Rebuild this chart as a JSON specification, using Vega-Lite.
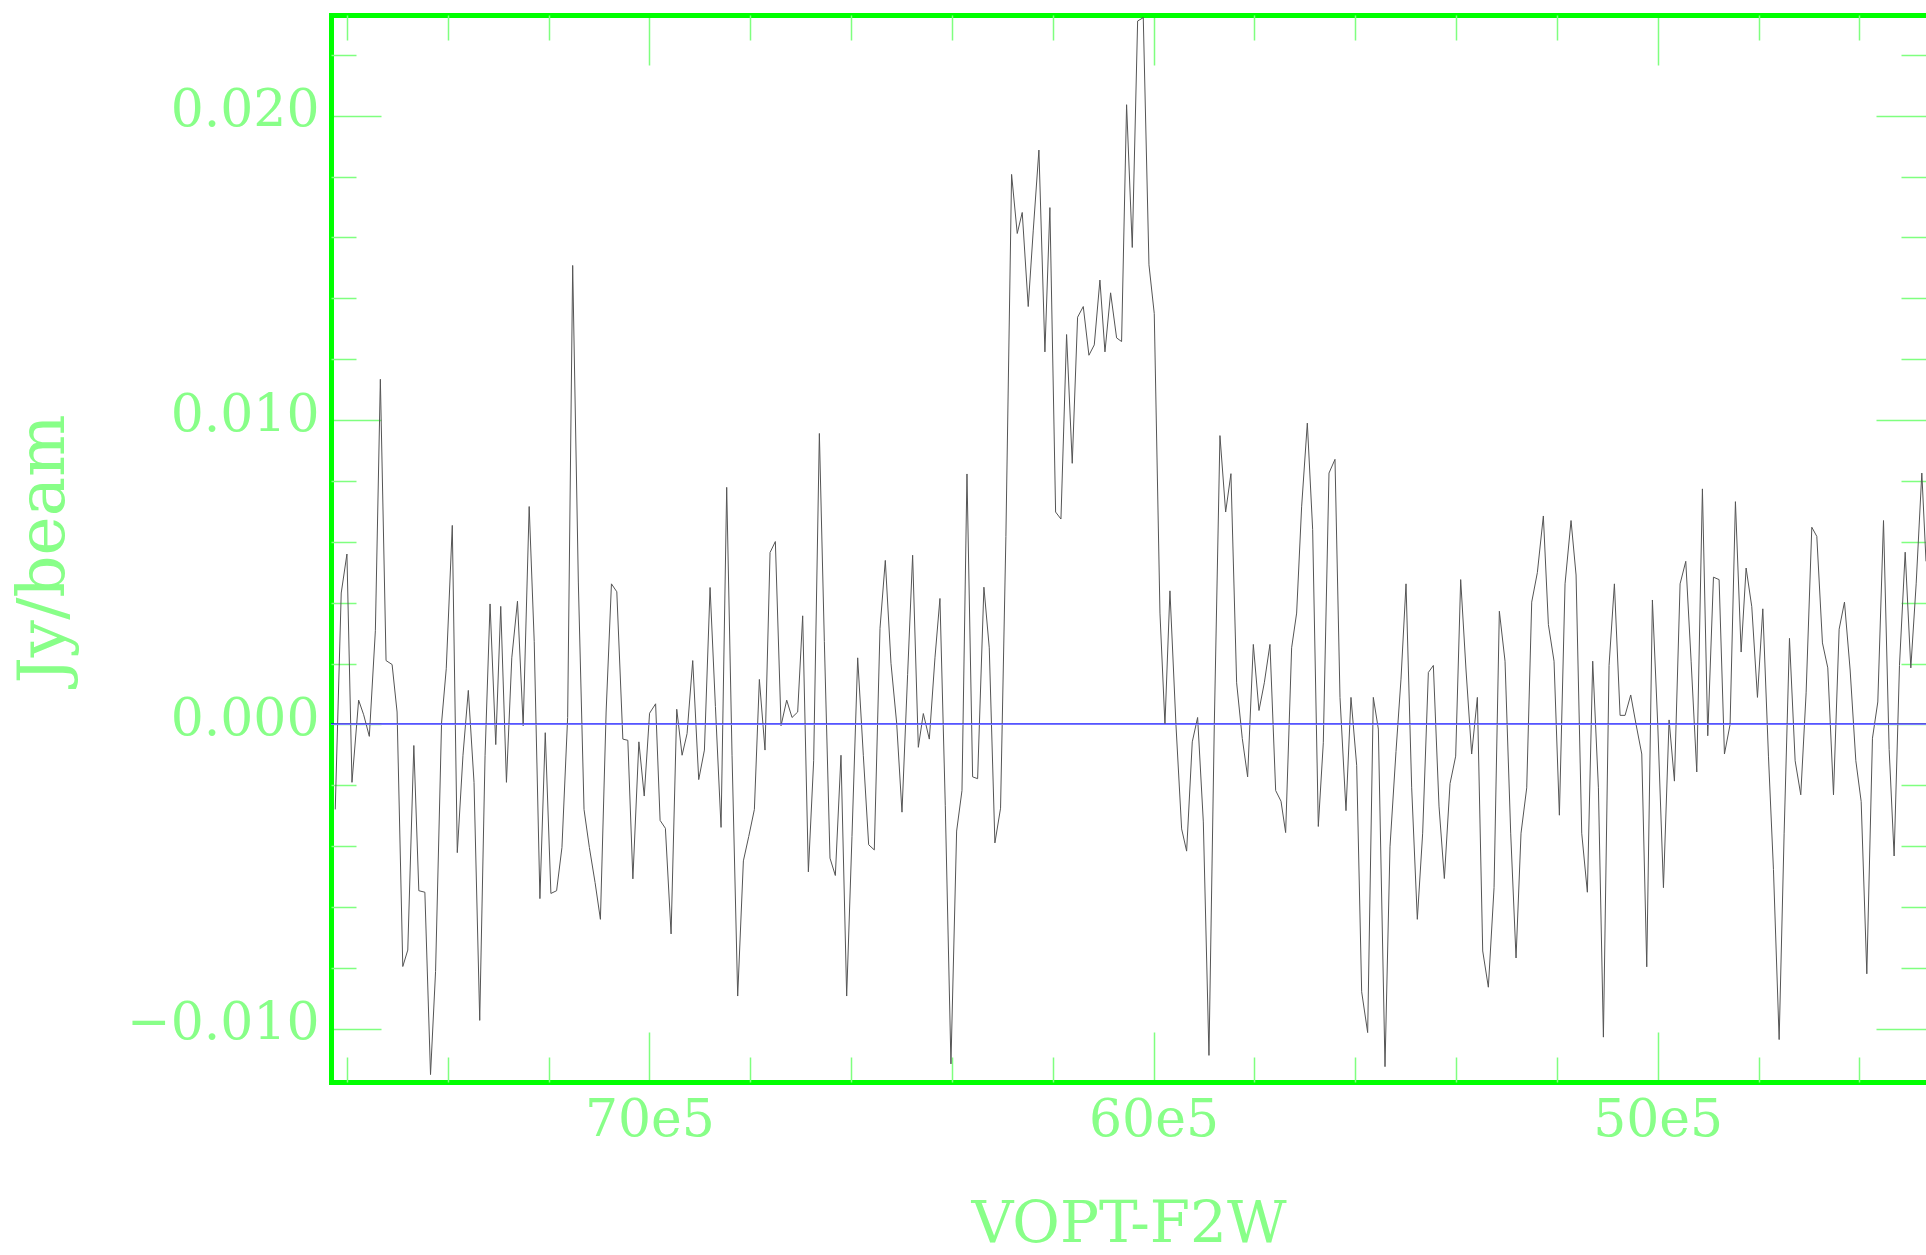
{
  "$schema": "https://vega.github.io/schema/vega-lite/v6.json",
  "width": 1595,
  "height": 1067,
  "autosize": {"type": "none"},
  "padding": {"left": 331, "top": 15, "right": 0, "bottom": 173},
  "background": "white",
  "config": {
    "view": {"stroke": null},
    "axis": {"labelFont": "DejaVu Serif", "titleFont": "DejaVu Serif", "zindex": 1, "grid": false, "labelLimit": 0}
  },
  "data": {"values": [
    {"vel":7623200,"flux":-0.00279},{"vel":7611300,"flux":0.00432},{"vel":7600000,"flux":0.00560},{"vel":7590000,"flux":-0.00190},
    {"vel":7576800,"flux":0.00080},{"vel":7566800,"flux":0.00032},{"vel":7555600,"flux":-0.00039},{"vel":7543600,"flux":0.00308},
    {"vel":7533700,"flux":0.01134},{"vel":7522400,"flux":0.00210},{"vel":7510400,"flux":0.00197},{"vel":7500500,"flux":0.00041},
    {"vel":7489200,"flux":-0.00795},{"vel":7479300,"flux":-0.00741},{"vel":7467300,"flux":-0.00069},{"vel":7457400,"flux":-0.00546},
    {"vel":7445400,"flux":-0.00551},{"vel":7434200,"flux":-0.01150},{"vel":7424200,"flux":-0.00812},{"vel":7412300,"flux":0.00005},
    {"vel":7403000,"flux":0.00183},{"vel":7391000,"flux":0.00654},{"vel":7381100,"flux":-0.00421},{"vel":7369800,"flux":-0.00101},
    {"vel":7359200,"flux":0.00112},{"vel":7347900,"flux":-0.00190},{"vel":7336600,"flux":-0.00972},{"vel":7326000,"flux":-0.00101},
    {"vel":7316100,"flux":0.00396},{"vel":7304800,"flux":-0.00066},{"vel":7294900,"flux":0.00388},{"vel":7283600,"flux":-0.00190},
    {"vel":7273000,"flux":0.00219},{"vel":7261700,"flux":0.00405},{"vel":7250400,"flux":-0.00004},{"vel":7238500,"flux":0.00716},
    {"vel":7228500,"flux":0.00272},{"vel":7217200,"flux":-0.00572},{"vel":7206600,"flux":-0.00027},{"vel":7195400,"flux":-0.00555},
    {"vel":7184100,"flux":-0.00546},{"vel":7173500,"flux":-0.00404},{"vel":7162200,"flux":0.00023},{"vel":7152200,"flux":0.01508},
    {"vel":7141000,"flux":0.00468},{"vel":7129700,"flux":-0.00279},{"vel":7119100,"flux":-0.00404},{"vel":7107800,"flux":-0.00519},
    {"vel":7097200,"flux":-0.00640},{"vel":7085900,"flux":0.00041},{"vel":7075300,"flux":0.00462},{"vel":7064700,"flux":0.00436},
    {"vel":7052700,"flux":-0.00048},{"vel":7042800,"flux":-0.00052},{"vel":7032800,"flux":-0.00507},{"vel":7020900,"flux":-0.00057},
    {"vel":7010300,"flux":-0.00235},{"vel":6999700,"flux":0.00037},{"vel":6987700,"flux":0.00068},{"vel":6978800,"flux":-0.00315},
    {"vel":6968300,"flux":-0.00341},{"vel":6957000,"flux":-0.00688},{"vel":6945800,"flux":0.00050},{"vel":6935200,"flux":-0.00101},
    {"vel":6925300,"flux":-0.00030},{"vel":6914100,"flux":0.00210},{"vel":6902200,"flux":-0.00181},{"vel":6890900,"flux":-0.00084},
    {"vel":6879700,"flux":0.00450},{"vel":6869100,"flux":0.00059},{"vel":6857900,"flux":-0.00338},{"vel":6846700,"flux":0.00779},
    {"vel":6836100,"flux":-0.00101},{"vel":6824900,"flux":-0.00892},{"vel":6813600,"flux":-0.00448},{"vel":6803000,"flux":-0.00368},
    {"vel":6791800,"flux":-0.00279},{"vel":6781900,"flux":0.00148},{"vel":6770700,"flux":-0.00084},{"vel":6760700,"flux":0.00565},
    {"vel":6750200,"flux":0.00601},{"vel":6738900,"flux":-0.00004},{"vel":6727700,"flux":0.00080},{"vel":6717100,"flux":0.00023},
    {"vel":6705900,"flux":0.00041},{"vel":6696000,"flux":0.00357},{"vel":6684700,"flux":-0.00484},{"vel":6674200,"flux":-0.00119},
    {"vel":6662900,"flux":0.00956},{"vel":6653000,"flux":0.00272},{"vel":6641800,"flux":-0.00439},{"vel":6631200,"flux":-0.00496},
    {"vel":6620000,"flux":-0.00101},{"vel":6608700,"flux":-0.00892},{"vel":6598200,"flux":-0.00368},{"vel":6586900,"flux":0.00219},
    {"vel":6575700,"flux":-0.00101},{"vel":6565100,"flux":-0.00395},{"vel":6553900,"flux":-0.00412},{"vel":6542600,"flux":0.00316},
    {"vel":6532100,"flux":0.00539},{"vel":6520800,"flux":0.00201},{"vel":6509600,"flux":0.00005},{"vel":6499000,"flux":-0.00288},
    {"vel":6487800,"flux":0.00165},{"vel":6477900,"flux":0.00556},{"vel":6466600,"flux":-0.00075},{"vel":6456700,"flux":0.00036},
    {"vel":6444800,"flux":-0.00048},{"vel":6433600,"flux":0.00219},{"vel":6423700,"flux":0.00414},{"vel":6413100,"flux":-0.00267},
    {"vel":6401900,"flux":-0.01115},{"vel":6390600,"flux":-0.00350},{"vel":6380000,"flux":-0.00217},{"vel":6370100,"flux":0.00823},
    {"vel":6358900,"flux":-0.00172},{"vel":6349000,"flux":-0.00178},{"vel":6336500,"flux":0.00451},{"vel":6325900,"flux":0.00252},
    {"vel":6314700,"flux":-0.00389},{"vel":6303500,"flux":-0.00275},{"vel":6292900,"flux":0.00618},{"vel":6281600,"flux":0.01807},
    {"vel":6270400,"flux":0.01613},{"vel":6260500,"flux":0.01682},{"vel":6248600,"flux":0.01373},{"vel":6238600,"flux":0.01624},
    {"vel":6227400,"flux":0.01887},{"vel":6215500,"flux":0.01224},{"vel":6205600,"flux":0.01698},{"vel":6194300,"flux":0.00698},
    {"vel":6183700,"flux":0.00675},{"vel":6172500,"flux":0.01281},{"vel":6161300,"flux":0.00858},{"vel":6150700,"flux":0.01338},
    {"vel":6139400,"flux":0.01373},{"vel":6128200,"flux":0.01213},{"vel":6117600,"flux":0.01247},{"vel":6106400,"flux":0.01460},
    {"vel":6096400,"flux":0.01224},{"vel":6085200,"flux":0.01418},{"vel":6073300,"flux":0.01270},{"vel":6063400,"flux":0.01258},
    {"vel":6053500,"flux":0.02036},{"vel":6042200,"flux":0.01567},{"vel":6031600,"flux":0.02311},{"vel":6020400,"flux":0.02322},
    {"vel":6009100,"flux":0.01510},{"vel":5998600,"flux":0.01350},{"vel":5987300,"flux":0.00366},{"vel":5977400,"flux":0.00000},
    {"vel":5967500,"flux":0.00439},{"vel":5955600,"flux":0.00000},{"vel":5944300,"flux":-0.00343},{"vel":5934400,"flux":-0.00416},
    {"vel":5923200,"flux":-0.00057},{"vel":5912600,"flux":0.00023},{"vel":5901300,"flux":-0.00320},{"vel":5890100,"flux":-0.01087},
    {"vel":5879500,"flux":0.00000},{"vel":5868300,"flux":0.00949},{"vel":5857000,"flux":0.00698},{"vel":5846500,"flux":0.00824},
    {"vel":5835200,"flux":0.00137},{"vel":5824000,"flux":-0.00046},{"vel":5813400,"flux":-0.00172},{"vel":5802100,"flux":0.00263},
    {"vel":5790900,"flux":0.00046},{"vel":5780300,"flux":0.00137},{"vel":5769100,"flux":0.00263},{"vel":5757800,"flux":-0.00217},
    {"vel":5747200,"flux":-0.00252},{"vel":5738000,"flux":-0.00355},{"vel":5726100,"flux":0.00252},{"vel":5716200,"flux":0.00366},
    {"vel":5706300,"flux":0.00715},{"vel":5695000,"flux":0.00990},{"vel":5684400,"flux":0.00640},{"vel":5673200,"flux":-0.00335},
    {"vel":5663300,"flux":-0.00060},{"vel":5652000,"flux":0.00826},{"vel":5640100,"flux":0.00871},{"vel":5630200,"flux":0.00089},
    {"vel":5618300,"flux":-0.00283},{"vel":5608400,"flux":0.00089},{"vel":5597100,"flux":-0.00134},{"vel":5587200,"flux":-0.00878},
    {"vel":5575300,"flux":-0.01012},{"vel":5564100,"flux":0.00089},{"vel":5554100,"flux":-0.00015},{"vel":5540900,"flux":-0.01124},
    {"vel":5531000,"flux":-0.00402},{"vel":5519100,"flux":-0.00089},{"vel":5509200,"flux":0.00149},{"vel":5499200,"flux":0.00462},
    {"vel":5488000,"flux":-0.00208},{"vel":5476800,"flux":-0.00640},{"vel":5466200,"flux":-0.00357},{"vel":5454900,"flux":0.00171},
    {"vel":5445000,"flux":0.00194},{"vel":5433800,"flux":-0.00268},{"vel":5423200,"flux":-0.00506},{"vel":5411900,"flux":-0.00194},
    {"vel":5400700,"flux":-0.00104},{"vel":5390800,"flux":0.00476},{"vel":5380200,"flux":0.00179},{"vel":5369000,"flux":-0.00097},
    {"vel":5357700,"flux":0.00089},{"vel":5347100,"flux":-0.00744},{"vel":5335900,"flux":-0.00863},{"vel":5324600,"flux":-0.00536},
    {"vel":5314100,"flux":0.00372},{"vel":5302800,"flux":0.00208},{"vel":5291600,"flux":-0.00357},{"vel":5281000,"flux":-0.00767},
    {"vel":5271100,"flux":-0.00357},{"vel":5259800,"flux":-0.00208},{"vel":5249900,"flux":0.00402},{"vel":5238700,"flux":0.00499},
    {"vel":5226800,"flux":0.00685},{"vel":5216800,"flux":0.00328},{"vel":5205600,"flux":0.00208},{"vel":5195000,"flux":-0.00298},
    {"vel":5183800,"flux":0.00462},{"vel":5171900,"flux":0.00670},{"vel":5161900,"flux":0.00491},{"vel":5150700,"flux":-0.00357},
    {"vel":5139500,"flux":-0.00551},{"vel":5128900,"flux":0.00208},{"vel":5117600,"flux":-0.00208},{"vel":5107700,"flux":-0.01027},
    {"vel":5096500,"flux":0.00194},{"vel":5085900,"flux":0.00462},{"vel":5074600,"flux":0.00030},{"vel":5064700,"flux":0.00030},
    {"vel":5053500,"flux":0.00097},{"vel":5042900,"flux":0.00000},{"vel":5031600,"flux":-0.00097},{"vel":5021700,"flux":-0.00796},
    {"vel":5010500,"flux":0.00409},{"vel":4999900,"flux":0.00000},{"vel":4988600,"flux":-0.00536},{"vel":4977400,"flux":0.00015},
    {"vel":4966800,"flux":-0.00186},{"vel":4955600,"flux":0.00462},{"vel":4944300,"flux":0.00536},{"vel":4933700,"flux":0.00208},
    {"vel":4922500,"flux":-0.00156},{"vel":4911300,"flux":0.00774},{"vel":4900700,"flux":-0.00037},{"vel":4889400,"flux":0.00484},
    {"vel":4878200,"flux":0.00476},{"vel":4867600,"flux":-0.00097},{"vel":4856400,"flux":0.00000},{"vel":4845800,"flux":0.00732},
    {"vel":4834500,"flux":0.00238},{"vel":4824600,"flux":0.00514},{"vel":4813400,"flux":0.00387},{"vel":4802100,"flux":0.00089},
    {"vel":4791500,"flux":0.00380},{"vel":4780300,"flux":-0.00104},{"vel":4770400,"flux":-0.00476},{"vel":4759100,"flux":-0.01035},
    {"vel":4749200,"flux":-0.00357},{"vel":4738600,"flux":0.00283},{"vel":4727400,"flux":-0.00119},{"vel":4716200,"flux":-0.00231},
    {"vel":4705600,"flux":0.00104},{"vel":4694300,"flux":0.00648},{"vel":4684400,"flux":0.00618},{"vel":4673200,"flux":0.00268},
    {"vel":4662600,"flux":0.00186},{"vel":4651300,"flux":-0.00231},{"vel":4640100,"flux":0.00313},{"vel":4629500,"flux":0.00402},
    {"vel":4618300,"flux":0.00179},{"vel":4607000,"flux":-0.00119},{"vel":4596400,"flux":-0.00253},{"vel":4585200,"flux":-0.00819},
    {"vel":4574000,"flux":-0.00045},{"vel":4563400,"flux":0.00074},{"vel":4552100,"flux":0.00670},{"vel":4540900,"flux":-0.00082},
    {"vel":4531000,"flux":-0.00432},{"vel":4520400,"flux":0.00194},{"vel":4509100,"flux":0.00566},{"vel":4497900,"flux":0.00186},
    {"vel":4487300,"flux":0.00462},{"vel":4476100,"flux":0.00826},{"vel":4467800,"flux":0.00536}
  ]},
  "resolve": {"axis": {"x": "independent", "y": "independent"}},
  "layer": [
    {
      "mark": {"type": "line", "color": "#555555", "strokeWidth": 1},
      "encoding": {
        "x": {"field": "vel", "type": "quantitative",
              "scale": {"domain": [4467800, 7631600], "reverse": true, "nice": false, "zero": false},
              "axis": {"orient": "bottom", "values": [5000000, 6000000, 7000000],
                       "labelExpr": "(datum.value / 100000) + 'e5'",
                       "ticks": false, "domain": false,
                       "labelFontSize": 52, "labelColor": "#88ff88", "labelPadding": 12,
                       "title": "VOPT-F2W", "titleFontSize": 58, "titleFontWeight": "normal",
                       "titleColor": "#88ff88", "titlePadding": 50}},
        "y": {"field": "flux", "type": "quantitative",
              "scale": {"domain": [-0.011744, 0.023307], "nice": false, "zero": false},
              "axis": {"orient": "left", "values": [-0.01, 0, 0.01, 0.02], "format": ".3f",
                       "ticks": false, "domain": false,
                       "labelFontSize": 52, "labelColor": "#88ff88", "labelPadding": 12, "labelOffset": -6,
                       "title": "Jy/beam", "titleFontSize": 66, "titleFontWeight": "normal",
                       "titleColor": "#88ff88", "titlePadding": 54}}
      }
    },
    {
      "mark": {"type": "rule", "color": "#7a7aff", "strokeWidth": 1},
      "encoding": {
        "y": {"datum": 0, "type": "quantitative", "axis": null}
      }
    },
    {
      "mark": {"type": "point", "opacity": 0},
      "encoding": {
        "x": {"field": "vel", "type": "quantitative",
              "axis": {"orient": "bottom", "values": [5000000, 6000000, 7000000], "labels": false,
                       "tickSize": -50, "tickColor": "#7fff7f", "tickWidth": 1.5,
                       "domain": true, "domainColor": "#00ff00", "domainWidth": 5, "domainCap": "square",
                       "title": null}},
        "y": {"field": "flux", "type": "quantitative",
              "axis": {"orient": "left", "values": [-0.01, 0, 0.01, 0.02], "labels": false,
                       "tickSize": -50, "tickColor": "#7fff7f", "tickWidth": 1.5,
                       "domain": true, "domainColor": "#00ff00", "domainWidth": 5, "domainCap": "square",
                       "title": null}}
      }
    },
    {
      "mark": {"type": "point", "opacity": 0},
      "encoding": {
        "x": {"field": "vel", "type": "quantitative",
              "axis": {"orient": "bottom",
                       "values": [4600000, 4800000, 5200000, 5400000, 5600000, 5800000, 6200000, 6400000, 6600000, 6800000, 7200000, 7400000, 7600000],
                       "labels": false, "tickSize": -25, "tickColor": "#7fff7f", "tickWidth": 1.5,
                       "domain": false, "title": null}},
        "y": {"field": "flux", "type": "quantitative",
              "axis": {"orient": "left",
                       "values": [-0.008, -0.006, -0.004, -0.002, 0.002, 0.004, 0.006, 0.008, 0.012, 0.014, 0.016, 0.018, 0.022],
                       "labels": false, "tickSize": -25, "tickColor": "#7fff7f", "tickWidth": 1.5,
                       "domain": false, "title": null}}
      }
    },
    {
      "mark": {"type": "point", "opacity": 0},
      "encoding": {
        "x": {"field": "vel", "type": "quantitative",
              "axis": {"orient": "top", "values": [5000000, 6000000, 7000000], "labels": false,
                       "tickSize": -50, "tickColor": "#7fff7f", "tickWidth": 1.5,
                       "domain": true, "domainColor": "#00ff00", "domainWidth": 5, "domainCap": "square",
                       "title": null}},
        "y": {"field": "flux", "type": "quantitative",
              "axis": {"orient": "right", "values": [-0.01, 0, 0.01, 0.02], "labels": false,
                       "tickSize": -50, "tickColor": "#7fff7f", "tickWidth": 1.5,
                       "domain": false, "title": null}}
      }
    },
    {
      "mark": {"type": "point", "opacity": 0},
      "encoding": {
        "x": {"field": "vel", "type": "quantitative",
              "axis": {"orient": "top",
                       "values": [4600000, 4800000, 5200000, 5400000, 5600000, 5800000, 6200000, 6400000, 6600000, 6800000, 7200000, 7400000, 7600000],
                       "labels": false, "tickSize": -25, "tickColor": "#7fff7f", "tickWidth": 1.5,
                       "domain": false, "title": null}},
        "y": {"field": "flux", "type": "quantitative",
              "axis": {"orient": "right",
                       "values": [-0.008, -0.006, -0.004, -0.002, 0.002, 0.004, 0.006, 0.008, 0.012, 0.014, 0.016, 0.018, 0.022],
                       "labels": false, "tickSize": -25, "tickColor": "#7fff7f", "tickWidth": 1.5,
                       "domain": false, "title": null}}
      }
    }
  ]
}
